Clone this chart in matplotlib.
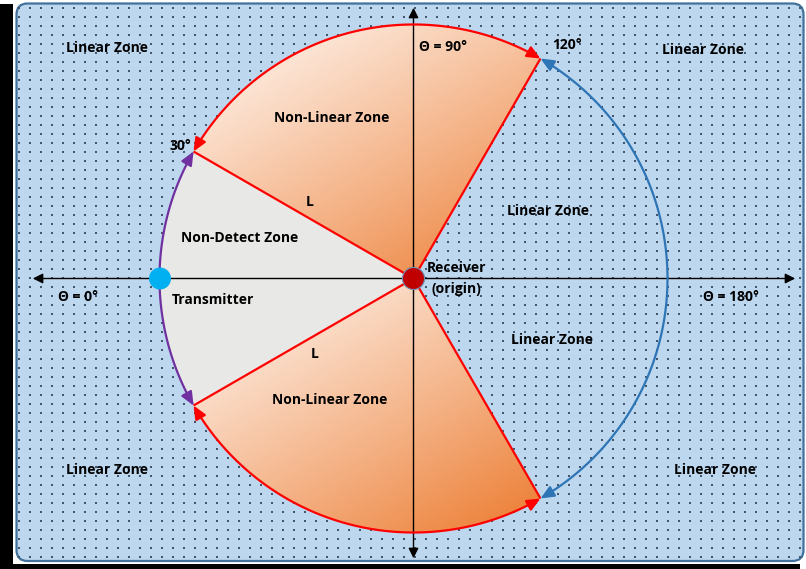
import numpy as np
import matplotlib.pyplot as plt
from matplotlib.patches import FancyBboxPatch, Circle, FancyArrowPatch, Rectangle, Polygon
from matplotlib.path import Path

# diagram values (angles in degrees, measured from the transmitter side)
theta_detect = 30
theta_linear = 120
axis_marks = ["\u0398 = 0\u00b0", "\u0398 = 90\u00b0", "\u0398 = 180\u00b0"]
angle_marks = ["30\u00b0", "120\u00b0"]
zone_names = ["Linear Zone", "Non-Linear Zone", "Non-Detect Zone"]
node_names = ["Receiver\n(origin)", "Transmitter"]
side_label = "L"

W, H = 806, 569
cx, cy = 413.5, 278.5
r = 254

fig = plt.figure(figsize=(W / 100, H / 100), dpi=100)
ax = fig.add_axes([0, 0, 1, 1])
ax.set_xlim(0, W)
ax.set_ylim(H, 0)
ax.axis("off")


def pt(phi, rad=r):
    p = np.radians(phi)
    return cx + rad * np.cos(p), cy - rad * np.sin(p)


def arc(phi1, phi2, n=120):
    ph = np.linspace(phi1, phi2, n)
    xs, ys = pt(ph)
    return np.column_stack([xs, ys])


# theta -> standard angle
up = lambda t: 180 - t
down = lambda t: 180 + t

# frame with shadow (left and bottom black strips)
ax.add_patch(Rectangle((0, 4), 13, H - 4, fc="black", ec="none", zorder=0.7))
ax.add_patch(Rectangle((0, 564), 800, 5, fc="black", ec="none", zorder=0.7))
box = FancyBboxPatch((16.5, 3.5), 787, 557.5, boxstyle="round,pad=0,rounding_size=11",
                     fc="#BDD7EE", ec="#41719C", lw=1.6, zorder=1)
ax.add_patch(box)

# dotted pattern
gx, gy = np.meshgrid(np.arange(19, W, 11.0), np.arange(8, 562, 9.0))
ax.scatter(gx.ravel(), gy.ravel(), s=0.55, marker="s", c="#44566b", linewidths=0, zorder=1.2,
           clip_path=box)
ax.scatter(gx.ravel() + 5.5, gy.ravel() + 4.5, s=0.45, marker="s", c="#a5bace", linewidths=0,
           zorder=1.2, clip_path=box)

light = np.array([255, 249, 245]) / 255
dark = np.array([236, 122, 46]) / 255


def gradient_wedge(verts):
    poly = Polygon(verts, closed=True, fc="none", ec="none")
    ax.add_patch(poly)
    x0, y0 = verts.min(axis=0)
    x1, y1 = verts.max(axis=0)
    xx, yy = np.meshgrid(np.linspace(0, 1, 200), np.linspace(0, 1, 200))
    t = np.clip((xx * 0.9 + yy * 1.1) / 2, 0, 1)[..., None] ** 1.1
    img = light * (1 - t) + dark * t
    im = ax.imshow(img, extent=(x0, x1, y1, y0), origin="upper", zorder=2,
                   interpolation="bilinear", aspect="auto")
    im.set_clip_path(poly)


center = np.array([[cx, cy]])
upper = np.vstack([center, arc(up(theta_linear), up(theta_detect))])
lower = np.vstack([center, arc(down(theta_detect), down(theta_linear))])
gradient_wedge(upper)
gradient_wedge(lower)

nodetect = np.vstack([center, arc(up(theta_detect), down(theta_detect))])
ax.add_patch(Polygon(nodetect, closed=True, fc="#E8E8E6", ec="none", zorder=2))

ax.set_xlim(0, W)
ax.set_ylim(H, 0)

# axes lines
ax.add_patch(FancyArrowPatch((30, cy), (798, cy), arrowstyle="<|-|>,head_length=0.6,head_width=0.3",
                             mutation_scale=10, color="black", lw=1, zorder=3))
ax.add_patch(FancyArrowPatch((cx, 5), (cx, 561), arrowstyle="<|-|>,head_length=0.6,head_width=0.3",
                             mutation_scale=10, color="black", lw=1, zorder=3))

# red edges
for phi in [up(theta_linear), up(theta_detect), down(theta_detect), down(theta_linear)]:
    x, y = pt(phi)
    ax.plot([cx, x], [cy, y], color="#FF0000", lw=1.6, zorder=4, solid_capstyle="butt")

arrow_kw = dict(arrowstyle="<|-|>,head_length=0.8,head_width=0.35", mutation_scale=10, lw=1.6, zorder=5)
ax.add_patch(FancyArrowPatch(path=Path(arc(up(theta_detect), down(theta_detect))), color="#7030A0", **arrow_kw))
ax.add_patch(FancyArrowPatch(path=Path(arc(up(theta_linear), -up(theta_linear))), color="#2E75B6", **arrow_kw))
ax.add_patch(FancyArrowPatch(path=Path(arc(up(theta_linear), up(theta_detect))), color="#FF0000", **arrow_kw))
ax.add_patch(FancyArrowPatch(path=Path(arc(down(theta_detect), down(theta_linear))), color="#FF0000", **arrow_kw))

# nodes
ax.add_patch(Circle((cx, cy), 11, fc="#C00000", ec="#6d8fb3", lw=0.8, zorder=6))
tx, ty = pt(180)
ax.add_patch(Circle((tx + 0.5, ty), 11, fc="#00B0F0", ec="none", zorder=6))

fam = ["Open Sans", "DejaVu Sans"]
txt = dict(fontsize=10, fontweight="bold", family=fam, color="black", ha="center", va="center", zorder=7)

for x, y in [(107, 48), (703, 50), (548, 211), (552, 340), (107, 470), (715, 470)]:
    ax.text(x, y, zone_names[0], **txt)
ax.text(332, 118, zone_names[1], **txt)
ax.text(330, 400, zone_names[1], **txt)
ax.text(240, 238, zone_names[2], **txt)

ax.text(78, 297, axis_marks[0], **txt)
ax.text(443, 47, axis_marks[1], **txt)
ax.text(731, 297, axis_marks[2], **txt)
ax.text(180, 146, angle_marks[0], **txt)
ax.text(567, 45, angle_marks[1], **txt)

ax.text(310, 202, side_label, **txt)
ax.text(315, 354, side_label, **txt)

ax.text(427, 268, node_names[0].split("\n")[0], **{**txt, "ha": "left"})
ax.text(431, 289, node_names[0].split("\n")[1], **{**txt, "ha": "left"})
ax.text(213, 300, node_names[1], **txt)

fig.savefig("out.png", dpi=100)
